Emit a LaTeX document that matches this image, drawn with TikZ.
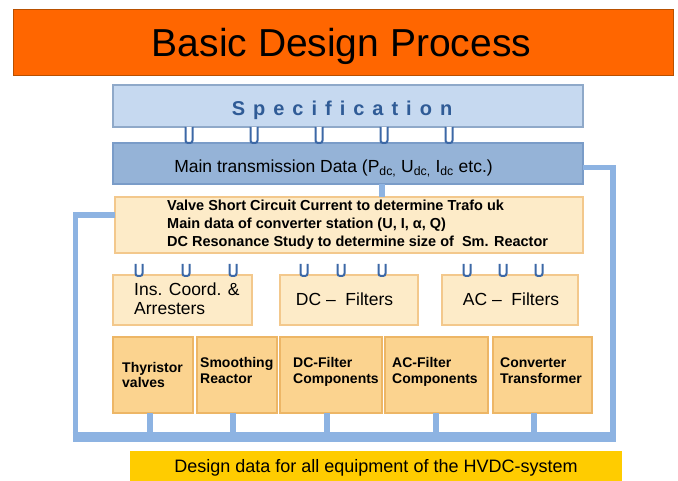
\documentclass[tikz,border=0pt]{standalone}
\usepackage{fontspec}
\setmainfont{Liberation Sans}
\definecolor{titleor}{HTML}{FF6600}
\definecolor{titlebd}{HTML}{B85000}
\definecolor{specfill}{HTML}{C6D9F0}
\definecolor{specbd}{HTML}{8FA9C9}
\definecolor{spectext}{HTML}{2F5B96}
\definecolor{mainfill}{HTML}{95B3D7}
\definecolor{mainbd}{HTML}{7A9CC8}
\definecolor{beige}{HTML}{FDEBC8}
\definecolor{beigebd}{HTML}{F3C88C}
\definecolor{comp}{HTML}{FBD38F}
\definecolor{compbd}{HTML}{EDB666}
\definecolor{linkblue}{HTML}{8DB3E2}
\definecolor{ublue}{HTML}{3C68A6}
\definecolor{designy}{HTML}{FFCC00}
\begin{document}
\begin{tikzpicture}[x=1pt,y=-1pt,
  box/.style={anchor=north west, inner sep=0pt, outer sep=0pt, line width=1.2pt},
  bluebox/.style={box, fill=specfill, draw=specbd},
  mainbox/.style={box, fill=mainfill, draw=mainbd},
  beigebox/.style={box, fill=beige, draw=beigebd},
  compbox/.style={box, fill=comp, draw=compbd},
  link/.style={draw=linkblue, line width=5.5pt},
  busline/.style={draw=linkblue, line width=10pt},
  ucon/.style={draw=ublue, fill=white, line width=2pt, rounded corners=2.5pt},
  ulinkA/.pic={\path[ucon] (-3.5,0) -- (-3.5,16) -- (3.5,16) -- (3.5,0);},
  ulinkB/.pic={\path[ucon] (-3.5,0) -- (-3.5,12) -- (3.5,12) -- (3.5,0);},
  txt/.style={inner sep=0pt, anchor=base west},
  ctxt/.style={inner sep=0pt, anchor=base},
  fs/.style={font=\fontsize{#1}{#1}\selectfont},
  fb/.style={font=\bfseries\fontsize{#1}{#1}\selectfont}
]
\useasboundingbox (0,0) rectangle (678,481);
% title
\node[box, fill=titleor, draw=titlebd, line width=1pt, minimum width=660pt, minimum height=66pt] (title) at (13,10) {};
\node[ctxt, fs=39] (titletext) at (341.5,57) {Basic Design Process};
% specification
\node[bluebox, minimum width=470pt, minimum height=42pt] (spec) at (113,85) {};
\node[ctxt, text=spectext, font=\bfseries\fontsize{20}{20}\selectfont\addfontfeature{LetterSpace=40}] (spectext) at (342,116) {Specification};
% main data
\node[mainbox, minimum width=470pt, minimum height=41pt] (main) at (113,143) {};
\node[ctxt, fs=17.5] (maintext) at (333.5,173) {Main transmission Data (P\textsubscript{dc,} U\textsubscript{dc,} I\textsubscript{dc} etc.)};
% calc box
\node[beigebox, minimum width=468pt, minimum height=56pt] (calc) at (115,197) {};
\node[txt, fb=14.5] (calc1) at (167,211) {Valve Short Circuit Current to determine Trafo uk};
\node[txt, fb=14.5] (calc2) at (167,229) {Main data of converter station (U, I, α, Q)};
\node[txt, fb=14.5] (calc3) at (167,247) {DC Resonance Study to determine size of \ Sm. Reactor};
% row of three
\node[beigebox, minimum width=139pt, minimum height=50pt] (ins) at (113,275) {};
\node[beigebox, minimum width=138pt, minimum height=50pt] (dcf) at (280,275) {};
\node[beigebox, minimum width=136pt, minimum height=50pt] (acf) at (442,275) {};
\node[txt, fs=17.5] (ins1) at (134,296) {Ins. Coord. \&};
\node[txt, fs=17.5] (ins2) at (134,315) {Arresters};
\node[ctxt, fs=17.5] (dcft) at (344.5,306) {DC – \ Filters};
\node[ctxt, fs=17.5] (acft) at (511,306) {AC – \ Filters};
% components
\node[compbox, minimum width=80pt, minimum height=76pt] (thy) at (113,337) {};
\node[compbox, minimum width=80pt, minimum height=76pt] (smo) at (197,337) {};
\node[compbox, minimum width=102pt, minimum height=76pt] (dcc) at (280,337) {};
\node[compbox, minimum width=103pt, minimum height=76pt] (acc) at (385,337) {};
\node[compbox, minimum width=99pt, minimum height=76pt] (cvt) at (493,337) {};
\node[txt, fb=14] (thy1) at (122,372) {Thyristor};
\node[txt, fb=14] (thy2) at (122,388) {valves};
\node[txt, fb=14] (smo1) at (200,367) {Smoothing};
\node[txt, fb=14] (smo2) at (200,383) {Reactor};
\node[txt, fb=14] (dcc1) at (293,367) {DC-Filter};
\node[txt, fb=14] (dcc2) at (293,383) {Components};
\node[txt, fb=14] (acc1) at (392,367) {AC-Filter};
\node[txt, fb=14] (acc2) at (392,383) {Components};
\node[txt, fb=14] (cvt1) at (500,367) {Converter};
\node[txt, fb=14] (cvt2) at (500,383) {Transformer};
% design data
\node[box, fill=designy, minimum width=492pt, minimum height=30pt] (design) at (130,451) {};
\node[ctxt, fs=18] (designtext) at (376,472) {Design data for all equipment of the HVDC-system};
% connectors
\coordinate (busL) at (75.5,437);
\coordinate (busR) at (613,437);
\coordinate (busLend) at (72.5,437);
\coordinate (busRend) at (616,437);
\path[link] ([xshift=34pt]main.south) -- ([xshift=34pt]main.south |- calc.north);
\path[link] ([yshift=-4pt]main.east) -| (busR);
\path[link] ([yshift=10pt]calc.west) -| (busL);
\path[link] ([xshift=-3pt]thy.south) -- ([xshift=-3pt]thy.south |- busL);
\path[link] ([xshift=-4pt]smo.south) -- ([xshift=-4pt]smo.south |- busL);
\path[link] ([xshift=-4pt]dcc.south) -- ([xshift=-4pt]dcc.south |- busL);
\path[link] ([xshift=-0.5pt]acc.south) -- ([xshift=-0.5pt]acc.south |- busL);
\path[link] ([xshift=-8.5pt]cvt.south) -- ([xshift=-8.5pt]cvt.south |- busL);
\path[busline] (busLend) -- (busRend);
% U links spec -> main
\foreach \ux in {189,254,319,384,449} { \pic at (\ux,127) {ulinkA}; }
% U links calc -> row
\foreach \ux in {139,186,233,304,341,382,467,503,539} { \pic at (\ux,264) {ulinkB}; }
\end{tikzpicture}
\end{document}
